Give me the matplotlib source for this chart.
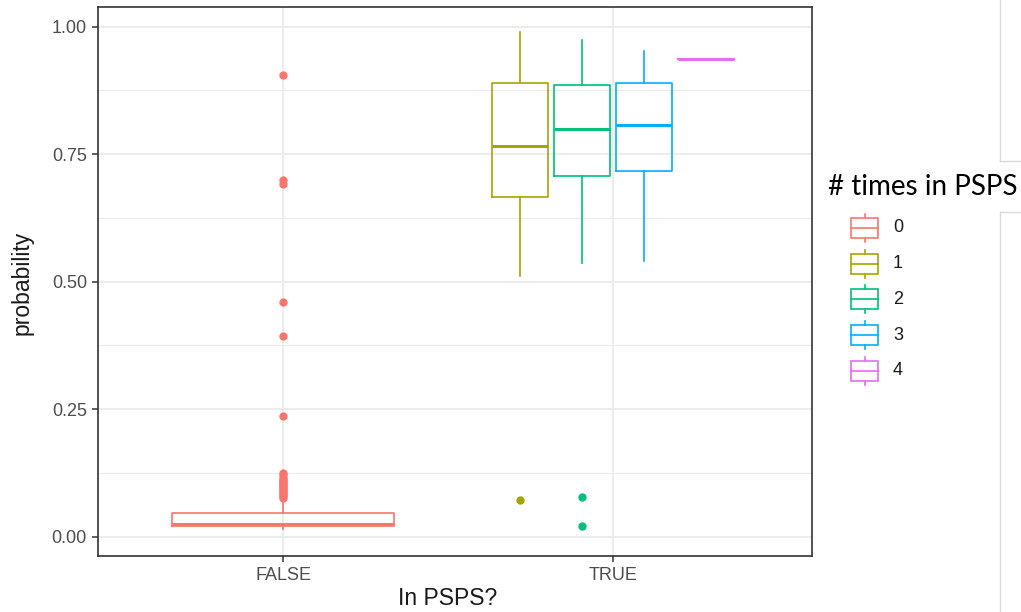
import matplotlib.pyplot as plt
from matplotlib.lines import Line2D
from matplotlib.patches import Rectangle

# groups ("# times in PSPS") and the x category they fall in
groups = ["0", "1", "2", "3", "4"]
in_psps = ["FALSE", "TRUE", "TRUE", "TRUE", "TRUE"]
x_cats = ["FALSE", "TRUE"]
colors = ["#F8766D", "#A3A500", "#00BF7D", "#00B0F6", "#E76BF3"]

# box statistics
whislo = [0.016, 0.512, 0.536, 0.540, 0.936]
q1 = [0.020, 0.666, 0.708, 0.717, 0.936]
med = [0.024, 0.765, 0.799, 0.807, 0.936]
q3 = [0.047, 0.889, 0.885, 0.889, 0.936]
whishi = [0.072, 0.990, 0.974, 0.953, 0.936]

fliers_0 = [0.906, 0.699, 0.692, 0.460, 0.393, 0.237,
            0.124, 0.120, 0.116, 0.112, 0.109, 0.106, 0.103, 0.100,
            0.097, 0.094, 0.091, 0.088, 0.085, 0.082, 0.079, 0.076]
fliers_1 = [0.0725]
fliers_2 = [0.078, 0.021]
fliers_3 = []
fliers_4 = []
fliers = [fliers_0, fliers_1, fliers_2, fliers_3, fliers_4]

yticks = [0.00, 0.25, 0.50, 0.75, 1.00]

W, H = 1021, 612
fig = plt.figure(figsize=(W / 100, H / 100), dpi=100)
plt.rcParams['font.family'] = ['Liberation Sans', 'DejaVu Sans']

ax = fig.add_axes([98 / W, 1 - 555.6 / H, (812 - 98) / W, (555.6 - 7) / H])

# dodge: 0.75 total width split between groups in each category
dodge = 0.75
for cat_i, cat in enumerate(x_cats):
    members = [i for i, c in enumerate(in_psps) if c == cat]
    n = len(members)
    slot = dodge / n
    for k, gi in enumerate(members):
        pos = cat_i + 1 - dodge / 2 + slot * (k + 0.5)
        st = dict(med=med[gi], q1=q1[gi], q3=q3[gi], whislo=whislo[gi],
                  whishi=whishi[gi], fliers=fliers[gi])
        c = colors[gi]
        ax.bxp([st], positions=[pos], widths=slot * 0.9, showcaps=False,
               boxprops=dict(color=c, linewidth=1.2),
               whiskerprops=dict(color=c, linewidth=1.2),
               medianprops=dict(color=c, linewidth=2.2),
               flierprops=dict(marker='o', markerfacecolor=c, markeredgecolor=c,
                               markersize=5, linestyle='none'),
               manage_ticks=False, zorder=3)

ax.set_xlim(0.4394, 2.603)
ax.set_ylim(-0.0371, 1.0385)
ax.set_xticks([1, 2])
ax.set_xticklabels(x_cats)
ax.set_yticks(yticks)
ax.set_yticklabels(["%.2f" % v for v in yticks])
ax.set_yticks([0.125, 0.375, 0.625, 0.875], minor=True)

ax.grid(True, which='major', color='#EBEBEB', linewidth=1.3, zorder=0)
ax.grid(True, which='minor', axis='y', color='#EBEBEB', linewidth=0.8, zorder=0)
ax.set_axisbelow(True)
for s in ax.spines.values():
    s.set_color('#333333')
    s.set_linewidth(1.2)
ax.tick_params(which='major', length=4, width=1.1, color='#333333',
               labelcolor='#4D4D4D', labelsize=13, pad=4)
ax.tick_params(which='minor', length=0)

ax.set_xlabel("In PSPS?", fontsize=16.5, color='#1A1A1A', va='center')
ax.set_ylabel("probability", fontsize=16.5, color='#1A1A1A', va='center')
ax.xaxis.set_label_coords(0.49, -0.0781)
ax.yaxis.set_label_coords(-0.106, 0.497)

# legend drawn in a figure-pixel overlay
lg = fig.add_axes([0, 0, 1, 1])
lg.set_xlim(0, W)
lg.set_ylim(H, 0)
lg.axis('off')
lg.text(828, 187, "# times in PSPS", fontsize=20, family=['Lato', 'DejaVu Sans'],
        color='black', va='center', ha='left')
for i, g in enumerate(groups):
    cy = 228 + 35.7 * i
    c = colors[i]
    lg.add_patch(Rectangle((851, cy - 10), 27, 20, fill=False, edgecolor=c, linewidth=1.2))
    lg.add_line(Line2D([851, 878], [cy, cy], color=c, linewidth=1.2))
    lg.add_line(Line2D([864.5, 864.5], [cy - 14, cy - 10], color=c, linewidth=1.2))
    lg.add_line(Line2D([864.5, 864.5], [cy + 10, cy + 14], color=c, linewidth=1.2))
    lg.text(893, cy, g, fontsize=13, color='#1A1A1A', va='center', ha='left')

# screenshot frame remnants at the right edge
for xs, ys in [([1000, 1000], [0, 161]), ([1000, W], [161, 161]),
               ([1000, W], [212, 212]), ([1000, 1000], [212, H])]:
    lg.add_line(Line2D(xs, ys, color='#D9D9D9', linewidth=1))

fig.savefig("out.png", dpi=100)
